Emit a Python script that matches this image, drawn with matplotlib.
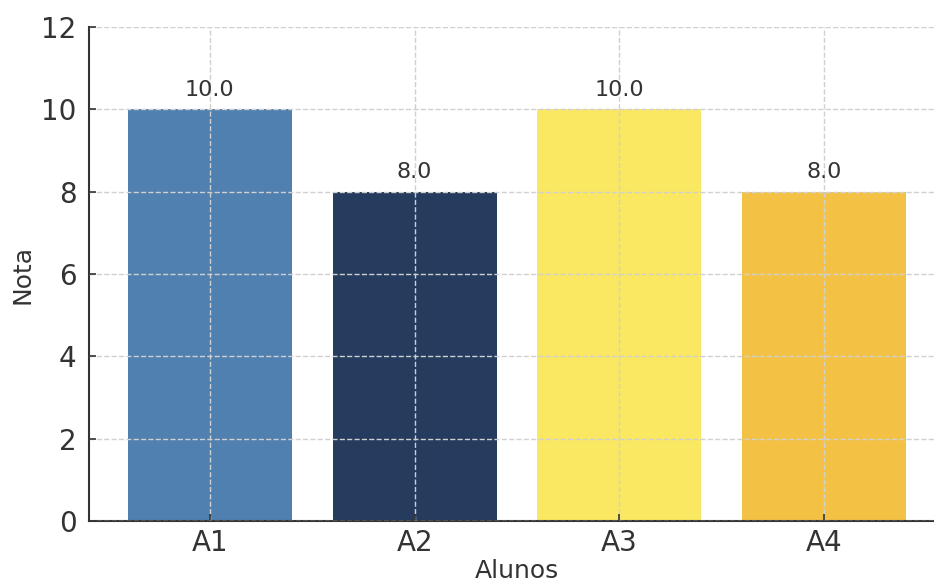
import matplotlib
matplotlib.use('Agg')
import matplotlib.pyplot as plt

alunos = ['A1', 'A2', 'A3', 'A4']
notas = [10.0, 8.0, 10.0, 8.0]
cores = ['#5080b0', '#253c5f', '#fae862', '#f3c245']

fig = plt.figure(figsize=(9.34, 5.87), dpi=100)
ax = fig.add_axes([89 / 934, 66 / 587, 856 / 934, 494 / 587])

bars = ax.bar(alunos, notas, color=cores, width=0.8, zorder=1)
ax.grid(True, linestyle='--', color='#d0d0d0', linewidth=1, zorder=3)
ax.set_axisbelow(False)

for b, v in zip(bars, notas):
    ax.annotate(f'{v:.1f}', (b.get_x() + b.get_width() / 2, v),
                xytext=(0, 7), textcoords='offset points',
                ha='center', va='bottom', fontsize=16, color='#333333')

ax.set_ylim(0, 12)
ax.set_yticks([0, 2, 4, 6, 8, 10, 12])
ax.set_xlabel('Alunos', fontsize=18, color='#333333', labelpad=1)
ax.set_ylabel('Nota', fontsize=18, color='#333333', labelpad=5)
ax.tick_params(axis='both', direction='in', labelsize=20, colors='#333333', length=5, width=1.2)
ax.tick_params(axis='y', pad=9)
ax.tick_params(axis='x', pad=6)

for s in ['top', 'right']:
    ax.spines[s].set_visible(False)
for s in ['left', 'bottom']:
    ax.spines[s].set_color('#333333')
    ax.spines[s].set_linewidth(1.5)

fig.savefig('out.png', dpi=100)
